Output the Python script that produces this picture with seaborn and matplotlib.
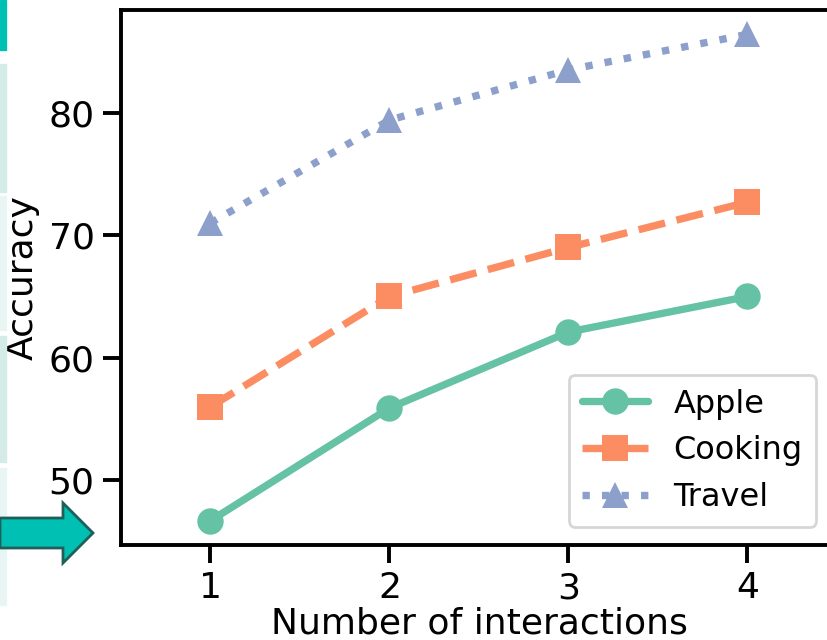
import matplotlib
matplotlib.use("Agg")
import matplotlib.pyplot as plt
import seaborn as sns
import pandas as pd
from matplotlib.patches import FancyArrow, Rectangle

interactions = [1, 2, 3, 4]
apple = [46.7, 55.9, 62.1, 65.0]
cooking = [56.0, 65.0, 69.0, 72.7]
travel = [71.0, 79.4, 83.5, 86.4]
series_names = ["Apple", "Cooking", "Travel"]

df = pd.DataFrame({
    "x": interactions * 3,
    "y": apple + cooking + travel,
    "task": sum([[n] * 4 for n in series_names], []),
})

sns.set_theme(style="ticks")
plt.rcParams["font.family"] = ["DejaVu Sans"]
plt.rcParams["text.color"] = "black"
plt.rcParams["axes.labelcolor"] = "black"
plt.rcParams["xtick.color"] = "black"
plt.rcParams["ytick.color"] = "black"

fig = plt.figure(figsize=(8.28, 6.4), dpi=100)
ax = fig.add_axes([121 / 828, 95 / 640, 716 / 828, 535 / 640])

colors = sns.color_palette("Set2", 3)
styles = {"Apple": ("-", "o"), "Cooking": ("--", "s"), "Travel": (":", "^")}
for i, name in enumerate(series_names):
    ls, mk = styles[name]
    sns.lineplot(data=df[df.task == name], x="x", y="y", ax=ax, color=colors[i],
                 linestyle=ls, marker=mk, markersize=19, linewidth=5.3,
                 markeredgewidth=0, label=name)

ax.set_xlim(0.5, 4.5)
ax.set_xticks(interactions)
ax.set_yticks([50, 60, 70, 80])
ax.set_xlabel("Number of interactions", fontsize=26, labelpad=1)
ax.set_ylabel("Accuracy", fontsize=26, labelpad=6)
ax.tick_params(labelsize=26, length=13, width=2.8, pad=6)
for s in ax.spines.values():
    s.set_linewidth(2.8)
    s.set_color("black")
ax.spines["right"].set_visible(False)

leg = ax.legend(loc="lower right", fontsize=23, frameon=True, handlelength=2.05,
                borderpad=0.42, labelspacing=0.5, handletextpad=0.8,
                bbox_to_anchor=(0.993, 0.004))
leg.get_frame().set_linewidth(2)
leg.get_frame().set_edgecolor("#cccccc")

# neighbouring-figure fragments on the left edge
def px_rect(x0, y0, x1, y1, color):
    fig.patches.append(Rectangle((x0 / 828, 1 - y1 / 640), (x1 - x0) / 828, (y1 - y0) / 640,
                                 transform=fig.transFigure, color=color, zorder=0))

px_rect(0, 0, 6, 50, "#00bfb3")
px_rect(0, 64, 6, 192, "#d4ebe7")
px_rect(0, 196, 6, 330, "#e9f5f3")
px_rect(0, 336, 6, 462, "#d4ebe7")
px_rect(0, 468, 6, 605, "#e9f5f3")

arrow = FancyArrow(0, 1 - 533 / 640, 93 / 828, 0, width=30 / 640, head_width=60 / 640,
                   head_length=30 / 828, length_includes_head=True,
                   transform=fig.transFigure, facecolor="#00bfb3", edgecolor="#1f5f5a",
                   linewidth=2, zorder=5)
fig.patches.append(arrow)

fig.savefig("out.png", dpi=100)
